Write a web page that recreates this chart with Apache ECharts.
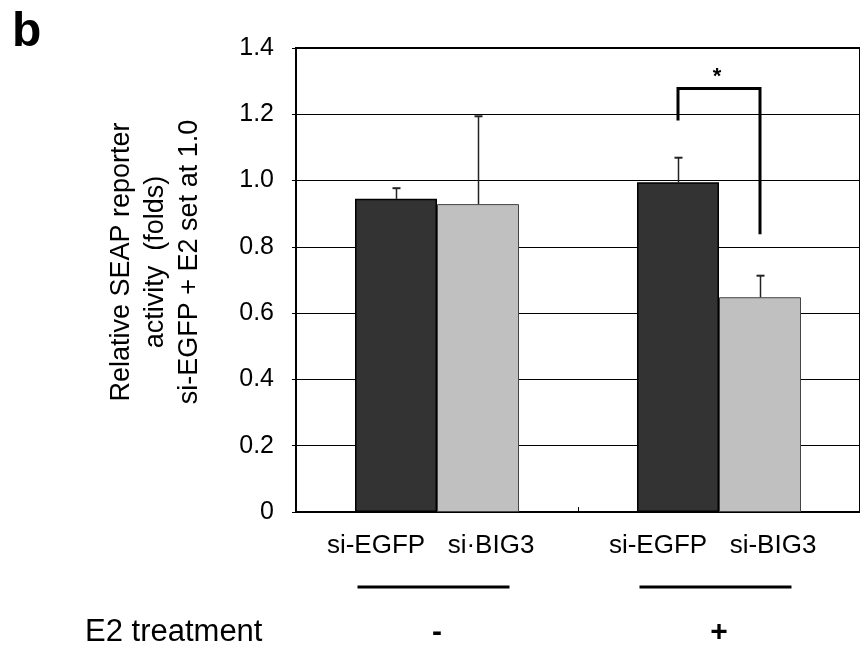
<!DOCTYPE html>
<html lang="en" style="height: 100%">
<head>
<meta charset="utf-8">
<title>SEAP reporter activity</title>
</head>
<body style="height: 100%; margin: 0">
<div id="container" style="width: 860px; height: 648px"></div>

<script type="text/javascript" src="https://cdn.jsdelivr.net/npm/echarts@6/dist/echarts.min.js"></script>

<script type="text/javascript">

var treatments = ['-', '+'];
var egfpLabels = ['si-EGFP', 'si-EGFP'];
var big3Labels = ['si\u00b7BIG3', 'si-BIG3'];
var egfpValues = [0.945, 0.995];
var egfpErrTop = [0.977, 1.069];
var big3Values = [0.929, 0.648];
var big3ErrTop = [1.194, 0.713];
// significance bracket (E2 +): [category, si-EGFP end, top, si-BIG3 end]
var bracket = [[1, 1.181, 1.278, 0.838]];
var yTickLabels = ['0', '0.2', '0.4', '0.6', '0.8', '1.0', '1.2', '1.4'];

var FONT = '"Liberation Sans", Arial, sans-serif';
var BAR_W = 82;

var dom = document.getElementById('container');
var myChart = echarts.init(dom);

function errorBar(offset) {
  return function (params, api) {
    var base = api.coord([api.value(0), api.value(1)]);
    var top = api.coord([api.value(0), api.value(2)]);
    var x = Math.round(base[0] + offset) + 0.5;
    return {
      type: 'group',
      children: [
        {type: 'line', shape: {x1: x, y1: base[1], x2: x, y2: top[1]}, style: {stroke: '#222', lineWidth: 1.5}},
        {type: 'line', shape: {x1: x - 4, y1: top[1], x2: x + 4, y2: top[1]}, style: {stroke: '#222', lineWidth: 2}}
      ]
    };
  };
}

option = {
  animation: false,
  textStyle: {fontFamily: FONT},
  title: {
    text: 'b',
    left: 12,
    top: 9,
    padding: 0,
    textStyle: {fontSize: 48, fontWeight: 'bold', color: '#000', fontFamily: FONT}
  },
  grid: {left: 296, top: 48, right: -13, bottom: 131, show: true, borderColor: '#000', borderWidth: 2},
  xAxis: {
    type: 'category',
    data: treatments,
    axisLine: {show: false},
    axisTick: {show: true, inside: true, length: 5, lineStyle: {color: '#000'}},
    axisLabel: {margin: 106, fontSize: 30, fontWeight: 'bold', color: '#000', fontFamily: FONT}
  },
  yAxis: {
    type: 'value',
    min: 0,
    max: 1.4,
    interval: 0.2,
    axisLine: {show: false},
    axisTick: {show: true, length: 4, lineStyle: {color: '#000'}},
    axisLabel: {
      margin: 22,
      fontSize: 25,
      color: '#000',
      fontFamily: FONT,
      formatter: function (v) { return yTickLabels[Math.round(v / 0.2)]; }
    },
    splitLine: {show: true, lineStyle: {color: '#000', width: 1.2}}
  },
  series: [
    {
      name: 'si-EGFP',
      type: 'bar',
      barWidth: BAR_W,
      barGap: '0%',
      data: egfpValues,
      itemStyle: {color: '#333333', borderColor: '#000', borderWidth: 1.5},
      label: {
        show: true,
        position: 'bottom',
        distance: 21,
        offset: [-20, 0],
        fontSize: 26,
        color: '#000',
        fontFamily: FONT,
        formatter: function (p) { return egfpLabels[p.dataIndex]; }
      },
      z: 3
    },
    {
      name: 'si-BIG3',
      type: 'bar',
      barWidth: BAR_W,
      barGap: '0%',
      data: big3Values,
      itemStyle: {color: '#c0c0c0', borderColor: '#444', borderWidth: 1},
      label: {
        show: true,
        position: 'bottom',
        distance: 21,
        offset: [13, 0],
        fontSize: 26,
        color: '#000',
        fontFamily: FONT,
        formatter: function (p) { return big3Labels[p.dataIndex]; }
      },
      z: 3
    },
    {
      type: 'custom',
      data: egfpValues.map(function (v, i) { return [i, v, egfpErrTop[i]]; }),
      renderItem: errorBar(-BAR_W / 2),
      z: 4
    },
    {
      type: 'custom',
      data: big3Values.map(function (v, i) { return [i, v, big3ErrTop[i]]; }),
      renderItem: errorBar(BAR_W / 2),
      z: 4
    },
    {
      type: 'custom',
      data: bracket,
      renderItem: function (params, api) {
        var l = api.coord([api.value(0), api.value(1)]);
        var t = api.coord([api.value(0), api.value(2)]);
        var r = api.coord([api.value(0), api.value(3)]);
        var xl = l[0] - BAR_W / 2, xr = l[0] + BAR_W / 2;
        return {
          type: 'group',
          children: [
            {type: 'polyline', shape: {points: [[xl, l[1]], [xl, t[1]], [xr, t[1]], [xr, r[1]]]}, style: {stroke: '#000', lineWidth: 3, fill: null}},
            {type: 'text', x: l[0] - 2, y: t[1] - 11, style: {text: '*', fontSize: 22, fontWeight: 'bold', fill: '#000', align: 'center', verticalAlign: 'middle', fontFamily: FONT}}
          ]
        };
      },
      z: 5
    },
    {
      type: 'custom',
      data: treatments.map(function (t, i) { return [i, 0]; }),
      renderItem: function (params, api) {
        var c = api.coord([api.value(0), api.value(1)]);
        var x = c[0] - 3.5;
        return {type: 'line', shape: {x1: x - 76, y1: c[1] + 75, x2: x + 76, y2: c[1] + 75}, style: {stroke: '#000', lineWidth: 3}};
      }
    }
  ],
  graphic: [
    {
      type: 'text',
      x: 156,
      y: 262,
      rotation: Math.PI / 2,
      style: {
        text: 'Relative SEAP reporter\nactivity  (folds)\nsi-EGFP + E2 set at 1.0',
        fontSize: 27,
        lineHeight: 34,
        fill: '#000',
        align: 'center',
        verticalAlign: 'middle',
        fontFamily: FONT
      }
    },
    {
      type: 'text',
      x: 85,
      y: 632,
      style: {text: 'E2 treatment', fontSize: 31, fill: '#000', verticalAlign: 'middle', fontFamily: FONT}
    }
  ]
};

if (option && typeof option === 'object') {
  myChart.setOption(option);
}

window.addEventListener('resize', myChart.resize);
</script>
</body>
</html>
